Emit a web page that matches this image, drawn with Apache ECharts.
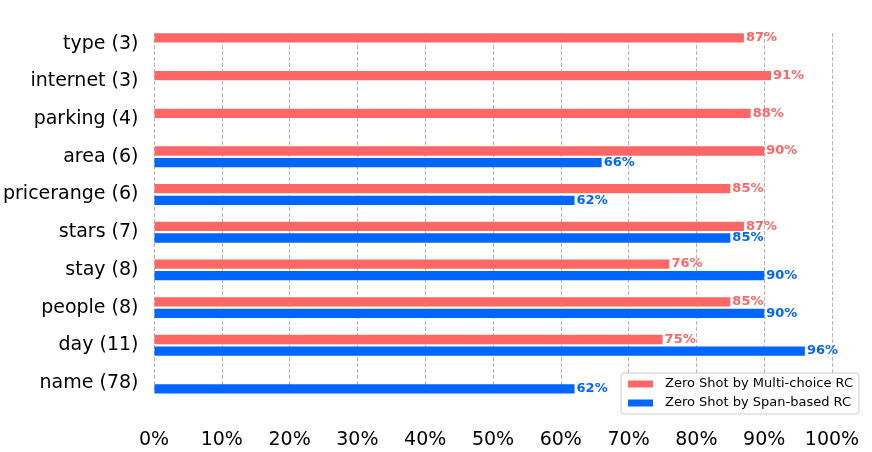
<!DOCTYPE html>
<html>
<head>
<meta charset="utf-8">
<script src="https://cdn.jsdelivr.net/npm/echarts@6/dist/echarts.min.js"></script>
<style>html,body{margin:0;padding:0;background:#fff}#c{width:872px;height:452px}</style>
</head>
<body>
<div id="c"></div>
<script>
const categories = ['type (3)', 'internet (3)', 'parking (4)', 'area (6)', 'pricerange (6)', 'stars (7)', 'stay (8)', 'people (8)', 'day (11)', 'name (78)'];
const multiChoice = [87, 91, 88, 90, 85, 87, 76, 85, 75, null];
const spanBased = [null, null, null, 66, 62, 85, 90, 90, 96, 62];
const xTicks = [0, 10, 20, 30, 40, 50, 60, 70, 80, 90, 100];
const seriesNames = ['Zero Shot by Multi-choice RC', 'Zero Shot by Span-based RC'];
const colors = ['#ff6666', '#0066ff'];

const font = 'DejaVu Sans';
const chart = echarts.init(document.getElementById('c'), null, {renderer: 'canvas'});
const mkLabel = (color) => ({
  show: true, position: 'right', distance: 2,
  formatter: (p) => p.value + '%',
  color: color, fontFamily: font, fontWeight: 'bold', fontSize: 13
});
chart.setOption({
  animation: false,
  backgroundColor: '#fff',
  textStyle: {fontFamily: font},
  grid: [
    {left: 154, right: 40, top: 24.85, height: 377, containLabel: false},
    {left: 154, right: 40, top: 33, height: 360, containLabel: false}
  ],
  xAxis: [
    {gridIndex: 0, type: 'value', min: 0, max: 100, interval: 10, show: false},
    {gridIndex: 1, type: 'value', min: 0, max: 100, interval: 10,
     axisLine: {show: false}, axisTick: {show: false},
     splitLine: {show: true, lineStyle: {color: '#b5b5b5', width: 1, type: [4, 2]}},
     axisLabel: {margin: 38, color: '#000', fontSize: 19, fontFamily: font,
       customValues: xTicks, formatter: (v) => v + '%'}}
  ],
  yAxis: [
    {gridIndex: 0, type: 'category', data: categories, inverse: true,
     axisLine: {show: false}, axisTick: {show: false}, splitLine: {show: false},
     axisLabel: {margin: 16, color: '#000', fontSize: 19, fontFamily: font}},
    {gridIndex: 1, type: 'value', show: false, min: 0, max: 1}
  ],
  legend: {
    orient: 'vertical', right: 13, bottom: 38,
    data: seriesNames,
    icon: 'rect', itemWidth: 25, itemHeight: 7, itemGap: 5,
    padding: [4, 6, 4, 7],
    borderColor: '#cccccc', borderWidth: 1, borderRadius: 3,
    backgroundColor: 'rgba(255,255,255,0.85)',
    textStyle: {fontFamily: font, fontSize: 13, color: '#000', lineHeight: 14, padding: [0, 0, 0, 7]}
  },
  series: [
    {name: seriesNames[0], type: 'bar', xAxisIndex: 0, yAxisIndex: 0, data: multiChoice,
     barWidth: 9.3, barGap: '25%', clip: false, z: 3,
     itemStyle: {color: colors[0]}, label: mkLabel(colors[0])},
    {name: seriesNames[1], type: 'bar', xAxisIndex: 0, yAxisIndex: 0, data: spanBased,
     barWidth: 9.3, barGap: '25%', clip: false, z: 3,
     itemStyle: {color: colors[1]}, label: mkLabel(colors[1])}
  ]
});
</script>
</body>
</html>
